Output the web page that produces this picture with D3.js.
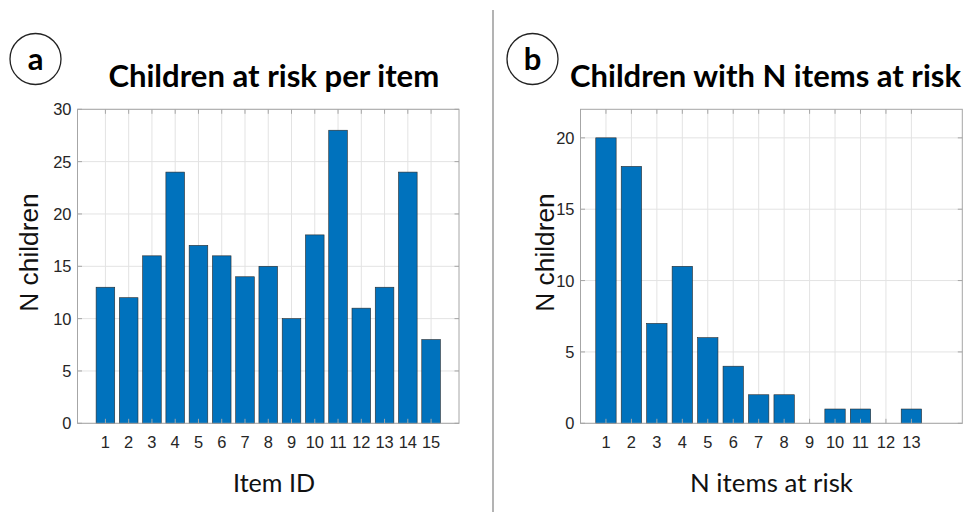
<!DOCTYPE html>
<html>
<head>
<meta charset="utf-8">
<script src="https://cdn.jsdelivr.net/npm/d3@7"></script>
<style>
  html, body { margin: 0; padding: 0; background: #ffffff; }
  svg { display: block; }
  .helv { font-family: "Liberation Sans", Arimo, Arial, Helvetica, sans-serif; }
  .calib { font-family: Lato, "Open Sans", sans-serif; }
</style>
</head>
<body>
<svg id="chart" width="973" height="512"></svg>
<script>
// ---- Data ----
const itemIds = [1,2,3,4,5,6,7,8,9,10,11,12,13,14,15];
const childrenPerItem = [13,12,16,24,17,16,14,15,10,18,28,11,13,24,8];
const yTicksA = [0,5,10,15,20,25,30];

const nItems = [1,2,3,4,5,6,7,8,9,10,11,12,13];
const childrenWithN = [20,18,7,11,6,4,2,2,0,1,1,0,1];
const yTicksB = [0,5,10,15,20];

const titleA = "Children at risk per item";
const titleB = "Children with N items at risk";
const xLabelA = "Item ID";
const xLabelB = "N items at risk";
const yLabel = "N children";

// ---- Styles ----
const barColor = "#0072BD";
const barEdge = "#2a2a2a";
const gridColor = "#e3e3e3";
const boxColor = "#a6a6a6";
const tickText = "#262626";

const svg = d3.select("#chart");

// measure a font size so that a sample string has a target width
function sizeFor(cls, weight, sample, targetWidth) {
  const t = svg.append("text").attr("class", cls).attr("font-weight", weight)
    .attr("font-size", 20).text(sample);
  const w = t.node().getComputedTextLength();
  t.remove();
  return w > 0 ? 20 * targetWidth / w : 16;
}
const tickFs = sizeFor("helv", 400, "10", 18.3);
const yLabFs = sizeFor("helv", 400, yLabel, 118.5);

function fitText(sel, targetWidth) {
  const fs = parseFloat(sel.attr("font-size"));
  const w = sel.node().getComputedTextLength();
  if (w > 0) sel.attr("font-size", (fs * targetWidth / w).toFixed(2));
}

function panel(cfg) {
  const x = d3.scaleLinear().domain(cfg.xDomain).range([cfg.left, cfg.right]);
  const y = d3.scaleLinear().domain(cfg.yDomain).range([cfg.bottom, cfg.top]);
  const g = svg.append("g");

  // grid
  g.append("g").selectAll("line").data(cfg.xs).join("line")
    .attr("x1", d => x(d)).attr("x2", d => x(d))
    .attr("y1", cfg.top).attr("y2", cfg.bottom)
    .attr("stroke", gridColor).attr("stroke-width", 1);
  g.append("g").selectAll("line").data(cfg.yTicks).join("line")
    .attr("x1", cfg.left).attr("x2", cfg.right)
    .attr("y1", d => y(d)).attr("y2", d => y(d))
    .attr("stroke", gridColor).attr("stroke-width", 1);

  // bars
  const bw = 0.8;
  g.append("g").selectAll("rect").data(cfg.xs.map((d, i) => ({x: d, v: cfg.vals[i]})).filter(d => d.v > 0))
    .join("rect")
    .attr("x", d => x(d.x - bw / 2))
    .attr("width", d => x(d.x + bw / 2) - x(d.x - bw / 2))
    .attr("y", d => y(d.v))
    .attr("height", d => y(0) - y(d.v))
    .attr("fill", barColor)
    .attr("stroke", barEdge).attr("stroke-width", 0.6);

  // box
  g.append("rect")
    .attr("x", cfg.left).attr("y", cfg.top)
    .attr("width", cfg.right - cfg.left).attr("height", cfg.bottom - cfg.top)
    .attr("fill", "none").attr("stroke", boxColor).attr("stroke-width", 1);

  // tick marks (inward, on all sides)
  const tl = 4.5;
  const tg = g.append("g").attr("stroke", boxColor).attr("stroke-width", 1);
  cfg.xs.forEach(d => {
    tg.append("line").attr("x1", x(d)).attr("x2", x(d)).attr("y1", cfg.bottom).attr("y2", cfg.bottom - tl);
    tg.append("line").attr("x1", x(d)).attr("x2", x(d)).attr("y1", cfg.top).attr("y2", cfg.top + tl);
  });
  cfg.yTicks.forEach(d => {
    tg.append("line").attr("x1", cfg.left).attr("x2", cfg.left + tl).attr("y1", y(d)).attr("y2", y(d));
    tg.append("line").attr("x1", cfg.right).attr("x2", cfg.right - tl).attr("y1", y(d)).attr("y2", y(d));
  });

  // tick labels
  g.append("g").selectAll("text").data(cfg.xs).join("text")
    .attr("class", "helv")
    .attr("x", d => x(d)).attr("y", cfg.bottom + 24.2)
    .attr("text-anchor", "middle")
    .attr("font-size", tickFs).attr("fill", tickText)
    .text(d => d);
  g.append("g").selectAll("text").data(cfg.yTicks).join("text")
    .attr("class", "helv")
    .attr("x", cfg.left - 6).attr("y", d => y(d) + 6)
    .attr("text-anchor", "end")
    .attr("font-size", tickFs).attr("fill", tickText)
    .text(d => d);

  // y label
  g.append("text")
    .attr("class", "helv")
    .attr("transform", `translate(${cfg.yLabelX},252.5) rotate(-90)`)
    .attr("text-anchor", "middle")
    .attr("font-size", yLabFs).attr("fill", "#111")
    .text(yLabel);

  // x label
  const xl = g.append("text")
    .attr("class", "calib")
    .attr("x", cfg.xLabelCx).attr("y", 492.3)
    .attr("text-anchor", "middle")
    .attr("font-size", 26).attr("fill", "#111")
    .text(cfg.xLabel);
  fitText(xl, cfg.xLabelW);

  // title
  const tt = g.append("text")
    .attr("class", "calib")
    .attr("x", cfg.titleCx).attr("y", 87)
    .attr("text-anchor", "middle")
    .attr("font-weight", 700).attr("font-size", 30).attr("fill", "#000")
    .text(cfg.title);
  fitText(tt, cfg.titleW);

  // panel letter circle
  g.append("circle").attr("cx", cfg.circX).attr("cy", 59).attr("r", 25.5)
    .attr("fill", "none").attr("stroke", "#222").attr("stroke-width", 1.3);
  g.append("text").attr("class", "calib").attr("x", cfg.circX).attr("y", 70)
    .attr("text-anchor", "middle")
    .attr("font-weight", 700).attr("font-size", 31).attr("fill", "#000")
    .text(cfg.letter);
}

panel({
  xs: itemIds, vals: childrenPerItem, yTicks: yTicksA,
  xDomain: [-0.2, 16.2], yDomain: [0, 30],
  left: 77.5, right: 459, top: 109.3, bottom: 423.3,
  yLabelX: 37.5, xLabel: xLabelA, xLabelCx: 274, xLabelW: 82,
  title: titleA, titleCx: 273.8, titleW: 331,
  circX: 35.5, letter: "a"
});

panel({
  xs: nItems, vals: childrenWithN, yTicks: yTicksB,
  xDomain: [0, 15], yDomain: [0, 22],
  left: 580.5, right: 962.3, top: 109.3, bottom: 423.3,
  yLabelX: 554, xLabel: xLabelB, xLabelCx: 771.5, xLabelW: 163,
  title: titleB, titleCx: 765.5, titleW: 391,
  circX: 532.5, letter: "b"
});

// divider
svg.append("line").attr("x1", 493).attr("x2", 493).attr("y1", 10).attr("y2", 512)
  .attr("stroke", "#9a9a9a").attr("stroke-width", 1.5);
</script>
</body>
</html>
